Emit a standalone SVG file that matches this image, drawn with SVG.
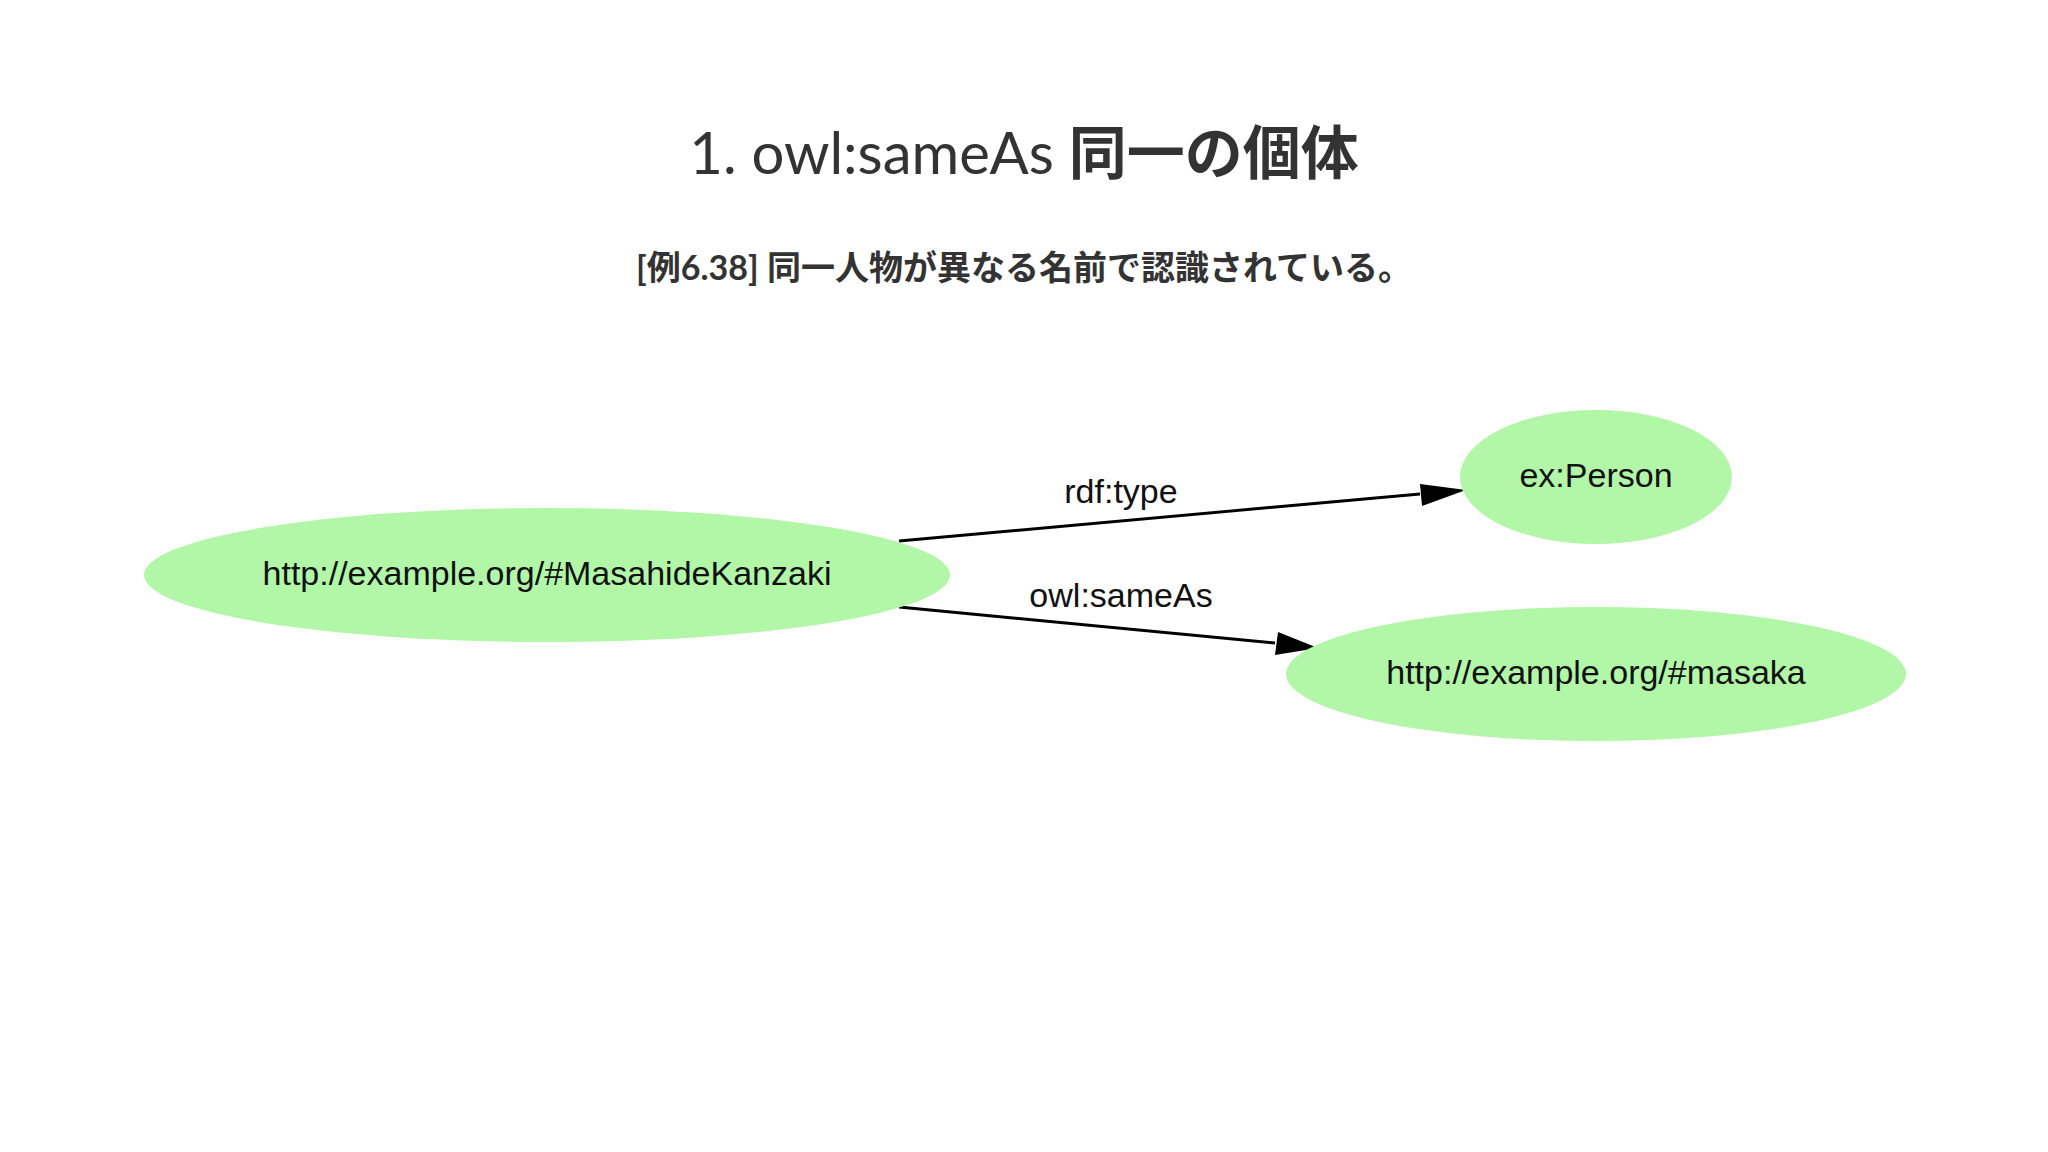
<svg xmlns="http://www.w3.org/2000/svg" width="2048" height="1152" viewBox="0 0 2048 1152">
<style>
.n{fill:#b2f7a8;stroke:none}
.t{font-family:"Liberation Sans",Arial,sans-serif;font-size:34px;fill:#111;text-anchor:middle}
.e{stroke:#000;stroke-width:3;fill:none}
</style>
<defs><marker id="a" markerWidth="12" markerHeight="10" refX="11" refY="5" orient="auto" markerUnits="userSpaceOnUse" viewBox="0 0 12 10"><path d="M0,0L12,5L0,10z" fill="#000"/></marker></defs>
<rect width="2048" height="1152" fill="#fff"/>
<text x="1024" y="174" font-family="Lato,'Noto Sans CJK JP',sans-serif" font-size="58" fill="#333" text-anchor="middle">1. owl:sameAs <tspan font-weight="bold">同一の個体</tspan></text>
<text x="1024" y="280" font-family="Lato,'Noto Sans CJK JP',sans-serif" font-size="34" font-weight="bold" fill="#333" text-anchor="middle">[例6.38] 同一人物が異なる名前で認識されている。</text>
<g id="connectors">
<line class="e" x1="899" y1="541" x2="1420" y2="494"/><path d="M1420,484L1466,490L1422,506z" fill="#000"/>
<text class="t" x="1121" y="503">rdf:type</text>
<line class="e" x1="899" y1="607" x2="1275" y2="643"/><path d="M1278,632L1318,648L1275,655z" fill="#000"/>
<text class="t" x="1121" y="607">owl:sameAs</text>
</g>
<g id="n1"><ellipse class="n" cx="547" cy="575" rx="403" ry="67"/><text class="t" x="547" y="585">http://example.org/#MasahideKanzaki</text></g>
<g id="n2"><ellipse class="n" cx="1596" cy="477" rx="136" ry="67"/><text class="t" x="1596" y="487">ex:Person</text></g>
<g id="n3"><ellipse class="n" cx="1596" cy="674" rx="310" ry="67"/><text class="t" x="1596" y="684">http://example.org/#masaka</text></g>
</svg>
